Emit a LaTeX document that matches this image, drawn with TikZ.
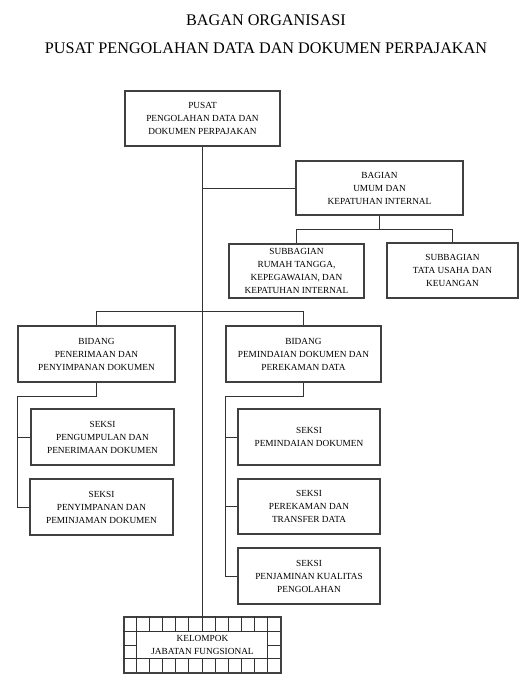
\documentclass[tikz,border=0pt]{standalone}
\usepackage{fontspec}
\setmainfont{Liberation Serif}
\usetikzlibrary{positioning}

\tikzset{
    unit/.style={draw=black!75, line width=1.1pt, align=center, inner sep=2pt,
        font=\fontsize{9.3}{13}\selectfont},
    link/.style={draw=black!80, line width=0.9pt}
}

\begin{document}
\begin{tikzpicture}[x=1pt, y=-1pt]
    \useasboundingbox (0,0) rectangle (530,685);
    % Judul
    \node (judul1) at (266,20) {\fontsize{16.2}{18}\selectfont BAGAN ORGANISASI};
    \node (judul2) at (266,48) {\fontsize{16.2}{18}\selectfont PUSAT PENGOLAHAN DATA DAN DOKUMEN PERPAJAKAN};
    % Pimpinan dan bagian
    \node[unit, minimum width=155pt, minimum height=55pt] (pusat) at (202.5,118.5)
        {PUSAT\\PENGOLAHAN DATA DAN\\DOKUMEN PERPAJAKAN};
    \node[unit, minimum width=167pt, minimum height=54pt] (bagian) at (379.5,188)
        {BAGIAN\\UMUM DAN\\KEPATUHAN INTERNAL};
    \node[unit, minimum width=135pt, minimum height=54pt] (sub1) at (296.5,271)
        {SUBBAGIAN\\RUMAH TANGGA,\\KEPEGAWAIAN, DAN\\KEPATUHAN INTERNAL};
    \node[unit, minimum width=131pt, minimum height=55pt] (sub2) at (452.5,270.5)
        {SUBBAGIAN\\TATA USAHA DAN\\KEUANGAN};
    % Bidang
    \node[unit, minimum width=157pt, minimum height=56pt] (bid1) at (96.5,354)
        {BIDANG\\PENERIMAAN DAN\\PENYIMPANAN DOKUMEN};
    \node[unit, minimum width=155pt, minimum height=56pt] (bid2) at (303.5,354)
        {BIDANG\\PEMINDAIAN DOKUMEN DAN\\PEREKAMAN DATA};
    % Seksi
    \node[unit, minimum width=143pt, minimum height=56pt] (sk1) at (102.5,437)
        {SEKSI\\PENGUMPULAN DAN\\PENERIMAAN DOKUMEN};
    \node[unit, minimum width=143pt, minimum height=56pt] (sk2) at (101.5,507)
        {SEKSI\\PENYIMPANAN DAN\\PEMINJAMAN DOKUMEN};
    \node[unit, minimum width=142pt, minimum height=56pt] (sk3) at (309,437)
        {SEKSI\\PEMINDAIAN DOKUMEN};
    \node[unit, minimum width=142pt, minimum height=55pt] (sk4) at (309,506.5)
        {SEKSI\\PEREKAMAN DAN\\TRANSFER DATA};
    \node[unit, minimum width=142pt, minimum height=56pt] (sk5) at (309,576)
        {SEKSI\\PENJAMINAN KUALITAS\\PENGOLAHAN};
    % Kelompok jabatan fungsional
    \node[unit, minimum width=157pt, minimum height=56pt] (kel) at (202.5,645)
        {KELOMPOK\\JABATAN FUNGSIONAL};
    \begin{scope}[shift={(kel.north west)}, link]
        \draw (0,15) -- (157,15) (0,42) -- (157,42);
        \foreach \i in {1,...,11} {
            \draw (\i*13.083,0) -- (\i*13.083,15) (\i*13.083,42) -- (\i*13.083,56);
        }
        \draw (13.083,15) -- (13.083,42) (143.917,15) -- (143.917,42);
        \draw (0,28.5) -- (13.083,28.5) (143.917,28.5) -- (157,28.5);
    \end{scope}
    % Garis
    \draw[link] (pusat.south) -- (kel.north);
    \draw[link] (pusat.south |- bagian.west) -- (bagian.west);
    \draw[link] (bagian.south) -- ++(0,14) coordinate (bagj);
    \draw[link] (sub1.north) |- (bagj) -| (sub2.north);
    \draw[link] (bid1.north) -- ++(0,-14) -| (bid2.north);
    \draw[link] (bid1.south) -- ++(0,14) -| (bid1.west |- sk2.west) -- (sk2.west);
    \draw[link] (bid1.west |- sk1.west) -- (sk1.west);
    \draw[link] (bid2.south) -- ++(0,14) -| (bid2.west |- sk5.west) -- (sk5.west);
    \draw[link] (bid2.west |- sk3.west) -- (sk3.west);
    \draw[link] (bid2.west |- sk4.west) -- (sk4.west);
\end{tikzpicture}
\end{document}
